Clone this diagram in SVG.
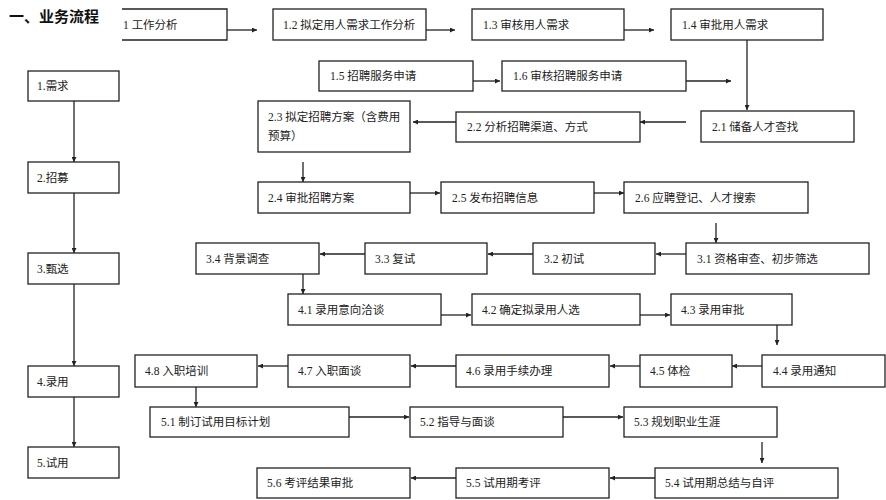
<svg xmlns="http://www.w3.org/2000/svg" width="886" height="500" viewBox="0 0 886 500">
<style>
.b{fill:#fff;stroke:#222;stroke-width:1.3}
.t{font-family:"Liberation Serif","Noto Sans CJK SC",serif;font-size:11.5px;fill:#222}
.c{fill:none;stroke:#222;stroke-width:1.3;marker-end:url(#a)}
.h{font-family:"Liberation Sans","Noto Sans CJK SC",sans-serif;font-size:15px;font-weight:bold;fill:#111}
</style>
<defs>
<marker id="a" viewBox="0 0 10 10" refX="10" refY="5" markerWidth="5" markerHeight="5" markerUnits="userSpaceOnUse" orient="auto">
<path d="M0,0L10,5L0,10z" fill="#222"/>
</marker>
</defs>
<rect width="886" height="500" fill="#fff"/>
<text class="h" x="9" y="22">一、业务流程</text>
<g id="connectors">
<path class="c" d="M227,30H257"/>
<path class="c" d="M426,30H455"/>
<path class="c" d="M624,30H654"/>
<path class="c" d="M747,40V110"/>
<path class="c" d="M473,81H500"/>
<path class="c" d="M686,81H731"/>
<path class="c" d="M686,122H640"/>
<path class="c" d="M456,122H413"/>
<path class="c" d="M303,162V182"/>
<path class="c" d="M410,193H440"/>
<path class="c" d="M594,193H624"/>
<path class="c" d="M716,223V243"/>
<path class="c" d="M686,254H656"/>
<path class="c" d="M533,254H488"/>
<path class="c" d="M365,254H320"/>
<path class="c" d="M303,274V294"/>
<path class="c" d="M441,315H471"/>
<path class="c" d="M640,315H670"/>
<path class="c" d="M777,325V345"/>
<path class="c" d="M762,366H732"/>
<path class="c" d="M640,366H610"/>
<path class="c" d="M456,366H411"/>
<path class="c" d="M288,366H258"/>
<path class="c" d="M196,387V407"/>
<path class="c" d="M349,417H409"/>
<path class="c" d="M563,417H623"/>
<path class="c" d="M762,442V463"/>
<path class="c" d="M655,478H610"/>
<path class="c" d="M456,478H411"/>
<path class="c" d="M74,101V162"/>
<path class="c" d="M74,193V253"/>
<path class="c" d="M74,284V366"/>
<path class="c" d="M74,397V447"/>
</g>
<g id="n1_1"><path class="b" d="M122,9H227V40H122"/><text class="t" x="123" y="29">1 工作分析</text></g>
<g id="n1_2"><rect class="b" x="273" y="9" width="153" height="31"/><text class="t" x="283" y="29">1.2 拟定用人需求工作分析</text></g>
<g id="n1_3"><rect class="b" x="472" y="9" width="152" height="31"/><text class="t" x="483" y="29">1.3 审核用人需求</text></g>
<g id="n1_4"><rect class="b" x="671" y="9" width="152" height="31"/><text class="t" x="682" y="29">1.4 审批用人需求</text></g>
<g id="n1_5"><rect class="b" x="319" y="61" width="154" height="30"/><text class="t" x="330" y="80">1.5 招聘服务申请</text></g>
<g id="n1_6"><rect class="b" x="502" y="61" width="184" height="30"/><text class="t" x="513" y="80">1.6 审核招聘服务申请</text></g>
<g id="n2_1"><rect class="b" x="701" y="111" width="153" height="31"/><text class="t" x="712" y="131">2.1 储备人才查找</text></g>
<g id="n2_2"><rect class="b" x="456" y="112" width="184" height="30"/><text class="t" x="467" y="131">2.2 分析招聘渠道、方式</text></g>
<g id="n2_3"><rect class="b" x="258" y="101" width="152" height="51"/><text class="t" x="268" y="121">2.3 拟定招聘方案（含费用</text><text class="t" x="268" y="140">预算）</text></g>
<g id="n2_4"><rect class="b" x="258" y="182" width="152" height="31"/><text class="t" x="268" y="202">2.4 审批招聘方案</text></g>
<g id="n2_5"><rect class="b" x="441" y="182" width="153" height="31"/><text class="t" x="452" y="202">2.5 发布招聘信息</text></g>
<g id="n2_6"><rect class="b" x="624" y="182" width="184" height="31"/><text class="t" x="635" y="202">2.6 应聘登记、人才搜索</text></g>
<g id="n3_1"><rect class="b" x="686" y="243" width="183" height="31"/><text class="t" x="697" y="263">3.1 资格审查、初步筛选</text></g>
<g id="n3_2"><rect class="b" x="533" y="243" width="122" height="31"/><text class="t" x="544" y="263">3.2 初试</text></g>
<g id="n3_3"><rect class="b" x="365" y="243" width="122" height="31"/><text class="t" x="375" y="263">3.3 复试</text></g>
<g id="n3_4"><rect class="b" x="196" y="243" width="123" height="31"/><text class="t" x="206" y="263">3.4 背景调查</text></g>
<g id="n4_1"><rect class="b" x="288" y="294" width="153" height="31"/><text class="t" x="298" y="314">4.1 录用意向洽谈</text></g>
<g id="n4_2"><rect class="b" x="472" y="294" width="168" height="31"/><text class="t" x="482" y="314">4.2 确定拟录用人选</text></g>
<g id="n4_3"><rect class="b" x="671" y="294" width="121" height="31"/><text class="t" x="681" y="314">4.3 录用审批</text></g>
<g id="n4_4"><rect class="b" x="762" y="355" width="123" height="32"/><text class="t" x="773" y="375">4.4 录用通知</text></g>
<g id="n4_5"><rect class="b" x="640" y="355" width="92" height="32"/><text class="t" x="650" y="375">4.5 体检</text></g>
<g id="n4_6"><rect class="b" x="456" y="355" width="153" height="32"/><text class="t" x="466" y="375">4.6 录用手续办理</text></g>
<g id="n4_7"><rect class="b" x="288" y="355" width="122" height="32"/><text class="t" x="298" y="375">4.7 入职面谈</text></g>
<g id="n4_8"><rect class="b" x="135" y="355" width="122" height="32"/><text class="t" x="145" y="375">4.8 入职培训</text></g>
<g id="n5_1"><rect class="b" x="150" y="407" width="199" height="30"/><text class="t" x="161" y="426">5.1 制订试用目标计划</text></g>
<g id="n5_2"><rect class="b" x="410" y="407" width="153" height="30"/><text class="t" x="420" y="426">5.2 指导与面谈</text></g>
<g id="n5_3"><rect class="b" x="624" y="407" width="153" height="30"/><text class="t" x="634" y="426">5.3 规划职业生涯</text></g>
<g id="n5_4"><rect class="b" x="655" y="468" width="183" height="30"/><text class="t" x="665" y="487">5.4 试用期总结与自评</text></g>
<g id="n5_5"><rect class="b" x="456" y="468" width="153" height="30"/><text class="t" x="466" y="487">5.5 试用期考评</text></g>
<g id="n5_6"><rect class="b" x="257" y="468" width="153" height="30"/><text class="t" x="267" y="487">5.6 考评结果审批</text></g>
<g id="s1"><rect class="b" x="28" y="71" width="91" height="30"/><text class="t" x="37" y="90">1.需求</text></g>
<g id="s2"><rect class="b" x="28" y="162" width="91" height="31"/><text class="t" x="37" y="182">2.招募</text></g>
<g id="s3"><rect class="b" x="28" y="253" width="91" height="31"/><text class="t" x="37" y="273">3.甄选</text></g>
<g id="s4"><rect class="b" x="28" y="366" width="91" height="31"/><text class="t" x="37" y="386">4.录用</text></g>
<g id="s5"><rect class="b" x="28" y="447" width="91" height="31"/><text class="t" x="37" y="467">5.试用</text></g>
</svg>
